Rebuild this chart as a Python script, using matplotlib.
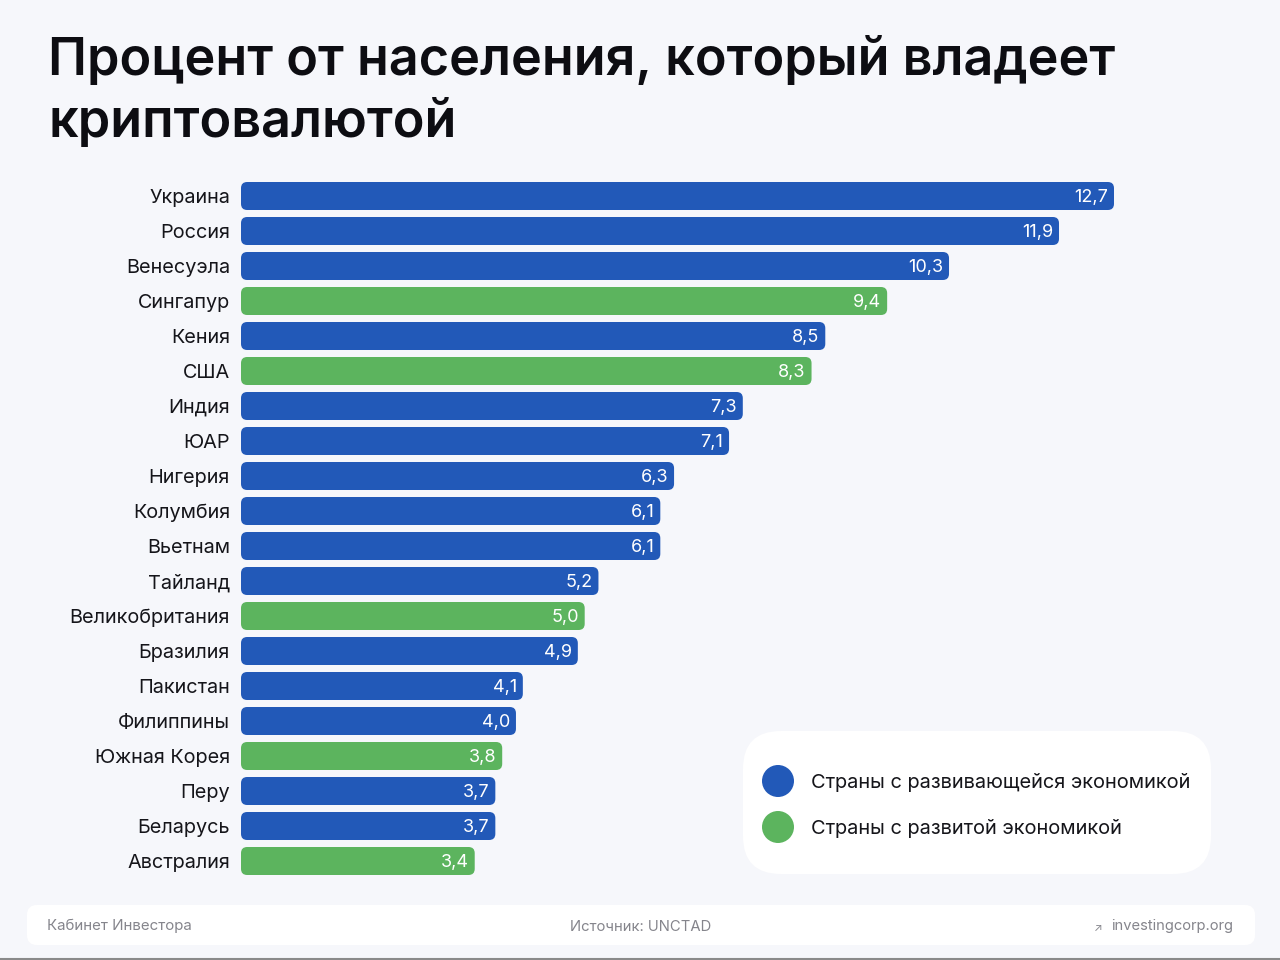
import matplotlib
matplotlib.use("Agg")
import matplotlib.pyplot as plt
from matplotlib.patches import FancyBboxPatch, Circle

plt.rcParams['font.family'] = ['Inter', 'Roboto', 'DejaVu Sans']

# ---------------- DATA ----------------
countries = ["Украина", "Россия", "Венесуэла", "Сингапур", "Кения", "США", "Индия", "ЮАР",
             "Нигерия", "Колумбия", "Вьетнам", "Тайланд", "Великобритания", "Бразилия",
             "Пакистан", "Филиппины", "Южная Корея", "Перу", "Беларусь", "Австралия"]
values = [12.7, 11.9, 10.3, 9.4, 8.5, 8.3, 7.3, 7.1, 6.3, 6.1, 6.1, 5.2, 5.0, 4.9, 4.1, 4.0, 3.8, 3.7, 3.7, 3.4]
developed = ["Сингапур", "США", "Великобритания", "Южная Корея", "Австралия"]

legend_labels = ["Страны с развивающейся экономикой", "Страны с развитой экономикой"]
title_lines = ["Процент от населения, который владеет", "криптовалютой"]

BLUE = "#2259b8"
GREEN = "#5cb45e"
BG = "#f6f7fb"

fig = plt.figure(figsize=(12.8, 9.6), dpi=100, facecolor=BG)

# full-figure layer in pixel coordinates for title, legend and footer
bg = fig.add_axes([0, 0, 1, 1])
bg.set_xlim(0, 1280)
bg.set_ylim(960, 0)
bg.axis("off")

bg.text(48, 61, title_lines[0], fontsize=37.6, fontweight="semibold", color="#0d0d12", va="center")
bg.text(48, 123, title_lines[1], fontsize=37.6, fontweight="semibold", color="#0d0d12", va="center")

# legend card
bg.add_patch(FancyBboxPatch((743, 731), 468, 143, boxstyle="round,pad=0,rounding_size=38",
                            fc="white", ec="none"))
for yy, col, lab in zip([781, 827], [BLUE, GREEN], legend_labels):
    bg.add_patch(Circle((778, yy), 16, fc=col, ec="none"))
    bg.text(811, yy + 2, lab, fontsize=14.4, color="#15151a", va="center")

# footer
bg.add_patch(FancyBboxPatch((27, 905), 1228, 40, boxstyle="round,pad=0,rounding_size=10",
                            fc="white", ec="none"))
bg.text(47, 926, "Кабинет Инвестора", fontsize=10.85, color="#85858c", va="center")
bg.text(570, 927, "Источник: UNCTAD", fontsize=10.7, color="#85858c", va="center")
bg.text(1233, 926, "investingcorp.org", fontsize=10.6, color="#85858c", va="center", ha="right")
bg.text(1098, 928, "↗", fontsize=8, color="#85858c", va="center", ha="center")
bg.plot([0, 1280], [959, 959], color="#8a8a8a", lw=1.5)

# bar chart axes: x = 0 at pixel 241, 68.74 px per percent, rows 35 px apart
ax = fig.add_axes([241 / 1280, 1 - 878.5 / 960, 1000 / 1280, 700 / 960])
ax.patch.set_alpha(0)
ax.set_xlim(0, 1000 / 68.74)
ax.set_ylim(len(values) - 0.5, -0.5)
aspect = 68.74 / 35

for i, (name, v) in enumerate(zip(countries, values)):
    col = GREEN if name in developed else BLUE
    ax.add_patch(FancyBboxPatch((0, i - 0.4), v, 0.8, boxstyle="round,pad=0,rounding_size=0.09",
                                mutation_aspect=aspect, fc=col, ec="none"))
    ax.text(v - 0.085, i + 0.04, f"{v:.1f}".replace(".", ","), color="white", fontsize=13,
            ha="right", va="center")

ax.set_yticks(range(len(countries)))
ax.set_yticklabels(countries, fontsize=14.3, color="#15151a")
ax.tick_params(axis="y", length=0, pad=8)
ax.set_xticks([])
for s in ax.spines.values():
    s.set_visible(False)

plt.savefig("out.png", dpi=100, facecolor=BG)
